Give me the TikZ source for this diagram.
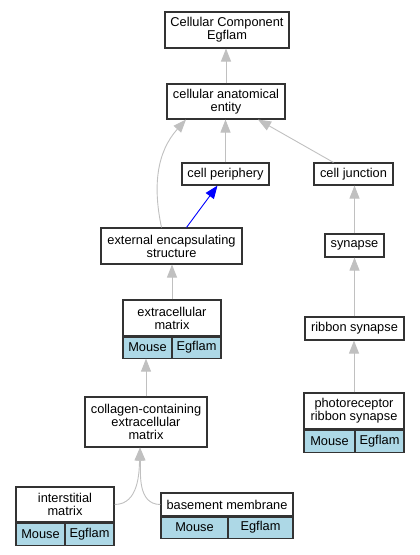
\documentclass[tikz,border=0pt]{standalone}
\usepackage{fontspec}
\setmainfont{Liberation Sans}
\usetikzlibrary{arrows.meta}
\definecolor{edgegray}{RGB}{192,192,192}
\definecolor{cellblue}{RGB}{173,216,230}
\tikzset{
  term/.style={draw=black!80, line width=1.1pt, fill=white, inner sep=0pt, align=center,
    font=\fontsize{12.8}{13}\selectfont},
  cell/.style={term, fill=cellblue},
  isa/.style={draw=edgegray, line width=0.9pt, -{Triangle[length=13pt,width=10pt]}},
  partof/.style={isa, draw=blue}
}
\begin{document}
\begin{tikzpicture}[x=1pt,y=1pt]
  \useasboundingbox (0,0) rectangle (420,-555);

  % Top of the tree
  \node[term, minimum width=124, minimum height=36] (cc) at (227,-30) {Cellular Component\\Egflam};
  \node[term, minimum width=118, minimum height=35] (cae) at (226,-101.5) {cellular anatomical\\entity};

  % Second level
  \node[term, minimum width=87, minimum height=22] (cp) at (225.5,-174) {cell periphery};
  \node[term, minimum width=79, minimum height=22] (cj) at (353.5,-174) {cell junction};

  % Left branch
  \node[term, minimum width=141, minimum height=36] (ees) at (171.5,-246) {external encapsulating\\structure};
  \node[term, minimum width=98, minimum height=36] (ecm) at (172,-318) {extracellular\\matrix};
  \node[cell, minimum width=49, minimum height=21, anchor=north west] (ecmM) at (ecm.south west) {Mouse};
  \node[cell, minimum width=49, minimum height=21, anchor=north east] (ecmE) at (ecm.south east) {Egflam};
  \node[term, minimum width=122, minimum height=50] (coll) at (146,-422) {collagen-containing\\extracellular\\matrix};

  % Leaves under the collagen node
  \node[term, minimum width=98, minimum height=35] (im) at (65,-504.5) {interstitial\\matrix};
  \node[cell, minimum width=49, minimum height=22, anchor=north west] (imM) at (im.south west) {Mouse};
  \node[cell, minimum width=49, minimum height=22, anchor=north east] (imE) at (im.south east) {Egflam};
  \node[term, minimum width=132, minimum height=23] (bm) at (227,-504.5) {basement membrane};
  \node[cell, minimum width=67, minimum height=21, anchor=north west] (bmM) at (bm.south west) {Mouse};
  \node[cell, minimum width=65, minimum height=21, anchor=north east] (bmE) at (bm.south east) {Egflam};

  % Right branch
  \node[term, minimum width=59, minimum height=23] (syn) at (354.5,-245.5) {synapse};
  \node[term, minimum width=99, minimum height=23] (rs) at (354.5,-328.5) {ribbon synapse};
  \node[term, minimum width=100, minimum height=36] (prs) at (354,-411) {photoreceptor\\ribbon synapse};
  \node[cell, minimum width=51, minimum height=22, anchor=north west] (prsM) at (prs.south west) {Mouse};
  \node[cell, minimum width=49, minimum height=22, anchor=north east] (prsE) at (prs.south east) {Egflam};

  % Edges
  \draw[isa] (cae.north) -- (cae.north |- cc.south);
  \draw[isa] (cp.north) -- (cp.north |- cae.south);
  \draw[isa] ([xshift=-20pt]cj.north) -- ([xshift=32pt]cae.south);
  \draw[isa] ([xshift=-10pt]ees.north) to[out=102, in=-132] ([xshift=-40pt]cae.south);
  \draw[partof] ([xshift=15pt]ees.north) -- ([xshift=-8pt]cp.south);
  \draw[isa] (ecm.north) -- (ecm.north |- ees.south);
  \draw[isa] (coll.north) -- (coll.north |- ecmM.south);
  \draw[isa] (im.east) to[out=0, in=-92] ([xshift=-6pt]coll.south);
  \draw[isa] (bm.west) to[out=180, in=-88] ([xshift=-6pt]coll.south);
  \draw[isa] (syn.north) -- (syn.north |- cj.south);
  \draw[isa] (rs.north) -- (rs.north |- syn.south);
  \draw[isa] (prs.north) -- (prs.north |- rs.south);
\end{tikzpicture}
\end{document}
